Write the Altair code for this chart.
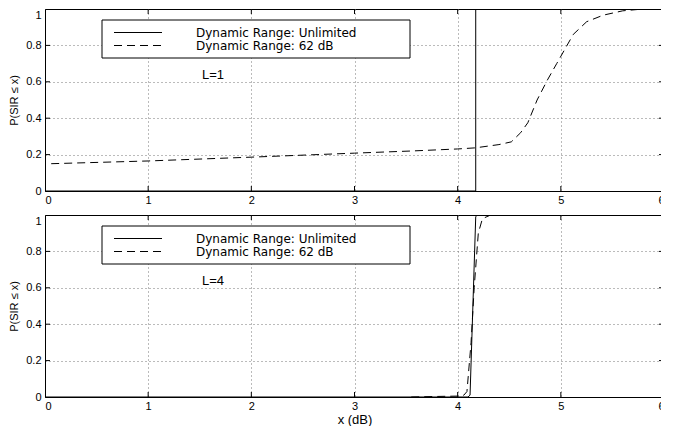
import altair as alt
import pandas as pd

# ---------------- data ----------------
x_ticks = [0, 1, 2, 3, 4, 5, 6]
y_ticks = [0, 0.2, 0.4, 0.6, 0.8, 1]

legend_labels = ["Dynamic Range: Unlimited", "Dynamic Range: 62 dB"]
panel_labels = ["L=1", "L=4"]

# L = 1
l1_solid_x = [0.0, 4.175, 4.175, 6.0]
l1_solid_y = [0.0, 0.0, 1.0, 1.0]
l1_dash_x = [0.06, 1.0, 2.0, 3.0, 3.56, 4.0, 4.17, 4.4, 4.52, 4.61, 4.68, 4.77,
             4.87, 4.96, 5.03, 5.12, 5.25, 5.41, 5.6, 5.8, 6.0]
l1_dash_y = [0.15, 0.165, 0.186, 0.208, 0.22, 0.231, 0.237, 0.255, 0.27, 0.32, 0.375, 0.5,
             0.61, 0.70, 0.77, 0.86, 0.93, 0.966, 0.99, 1.0, 1.0]

# L = 4
l4_solid_x = [0.0, 4.10, 4.12, 4.175, 4.19, 6.0]
l4_solid_y = [0.0, 0.0, 0.01, 0.99, 1.0, 1.0]
l4_dash_x = [3.55, 3.8, 4.0, 4.06, 4.09, 4.13, 4.16, 4.2, 4.24, 4.32, 6.0]
l4_dash_y = [0.0, 0.003, 0.005, 0.01, 0.03, 0.3, 0.6, 0.9, 0.98, 1.0, 1.0]

W, H = 619, 182
FONT = "Liberation Sans"
LEG_FONT = "DejaVu Sans"


def line_df(xs, ys):
    return pd.DataFrame({"x": xs, "y": ys, "o": list(range(len(xs)))})


def panel(solid_x, solid_y, dash_x, dash_y, label, show_xtitle):
    xscale = alt.Scale(domain=[0, 6], nice=False, zero=False)
    yscale = alt.Scale(domain=[0, 1], nice=False, zero=False)
    edge = "datum.value == 0 || datum.value == 1"
    xedge = "datum.value == 0 || datum.value == 6"
    xaxis = alt.Axis(values=x_ticks, tickCount=7, title="x (dB)" if show_xtitle else None,
                     ticks=False, labelPadding=3, titlePadding=2,
                     labelFontSize=11, titleFontSize=13, titleFontWeight="normal",
                     format="d", labelOverlap=False,
                     gridOpacity={"condition": {"test": xedge, "value": 0}, "value": 1})
    yaxis = alt.Axis(values=y_ticks, tickCount=6, title="P(SIR \u2264 x)", ticks=False,
                     labelPadding=4, titlePadding=6, labelFontSize=11, titleFontSize=11,
                     titleFontWeight="normal", labelOverlap=False, format=".1~f",
                     labelBaseline={"condition": {"test": "datum.value == 1", "value": "top"},
                                    "value": "middle"},
                     gridOpacity={"condition": {"test": edge, "value": 0}, "value": 1})

    solid = alt.Chart(line_df(solid_x, solid_y)).mark_line(
        color="black", strokeWidth=1, clip=True
    ).encode(x=alt.X("x:Q", scale=xscale, axis=xaxis),
             y=alt.Y("y:Q", scale=yscale, axis=yaxis),
             order="o:Q")
    dashed = alt.Chart(line_df(dash_x, dash_y)).mark_line(
        color="black", strokeWidth=1, strokeDash=[8, 5], clip=True
    ).encode(x="x:Q", y="y:Q", order="o:Q")

    xt = pd.DataFrame({"x": x_ticks[1:-1]})
    yt = pd.DataFrame({"y": y_ticks[1:-1]})
    tick_top = alt.Chart(xt).mark_rule(color="black").encode(
        x="x:Q", y=alt.value(0), y2=alt.value(5))
    tick_bot = alt.Chart(xt).mark_rule(color="black").encode(
        x="x:Q", y=alt.value(H - 5), y2=alt.value(H))
    tick_left = alt.Chart(yt).mark_rule(color="black").encode(
        y="y:Q", x=alt.value(0), x2=alt.value(5))
    tick_right = alt.Chart(yt).mark_rule(color="black").encode(
        y="y:Q", x=alt.value(W - 5), x2=alt.value(W))

    one = pd.DataFrame({"k": [0]})
    box = alt.Chart(one).mark_rect(fill="white", stroke="black", strokeWidth=1).encode(
        x=alt.value(57), x2=alt.value(365), y=alt.value(11), y2=alt.value(49))
    samp1 = alt.Chart(one).mark_rule(color="black", strokeWidth=1).encode(
        x=alt.value(69), x2=alt.value(117), y=alt.value(23.5))
    samp2 = alt.Chart(one).mark_rule(color="black", strokeWidth=1, strokeDash=[8, 5]).encode(
        x=alt.value(69), x2=alt.value(117), y=alt.value(36.5))
    t1 = alt.Chart(pd.DataFrame({"label": [legend_labels[0]]})).mark_text(
        align="left", baseline="middle", fontSize=12, font=LEG_FONT, color="black"
    ).encode(x=alt.value(151), y=alt.value(23.5), text="label:N")
    t2 = alt.Chart(pd.DataFrame({"label": [legend_labels[1]]})).mark_text(
        align="left", baseline="middle", fontSize=12, font=LEG_FONT, color="black"
    ).encode(x=alt.value(151), y=alt.value(36.5), text="label:N")
    ann = alt.Chart(pd.DataFrame({"label": [label]})).mark_text(
        align="left", baseline="middle", fontSize=13, font=FONT, color="black"
    ).encode(x=alt.value(157), y=alt.value(66), text="label:N")

    return alt.layer(solid, dashed, tick_top, tick_bot, tick_left, tick_right,
                     box, samp1, samp2, t1, t2, ann).properties(width=W, height=H)


top = panel(l1_solid_x, l1_solid_y, l1_dash_x, l1_dash_y, panel_labels[0], False)
bottom = panel(l4_solid_x, l4_solid_y, l4_dash_x, l4_dash_y, panel_labels[1], True)

chart = alt.vconcat(top, bottom, spacing=24, bounds="flush").properties(
    padding={"left": 0, "top": 0, "right": -4, "bottom": -1},
    background="white"
).configure_view(
    stroke="black", strokeWidth=1
).configure_axis(
    domainColor="black", domainWidth=1, labelColor="black", titleColor="black",
    labelFont=FONT, titleFont=FONT, titleFontWeight="normal", labelOverlap=False,
    gridColor="#777777", gridDash=[1, 3], gridWidth=1
)

chart.save("out.html", embed_options={"renderer": "svg", "actions": False})
